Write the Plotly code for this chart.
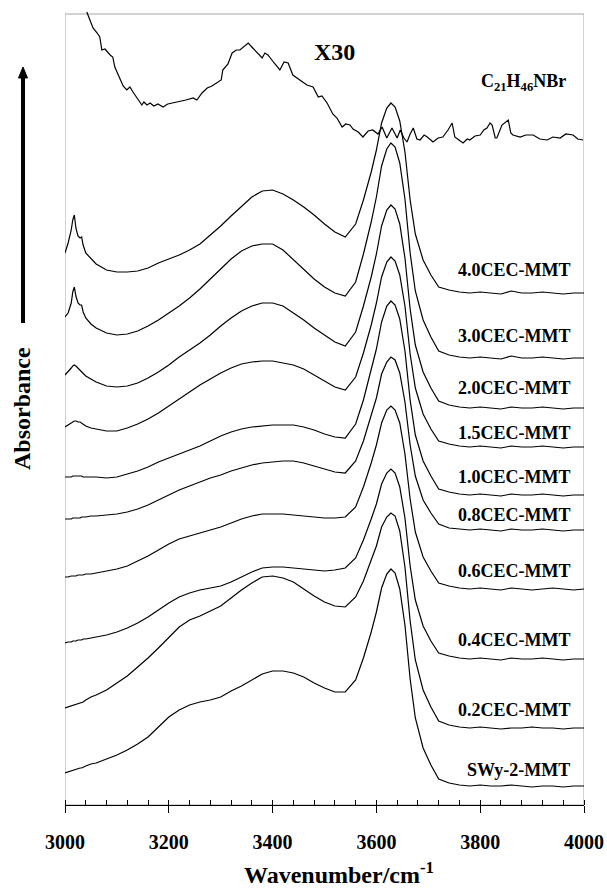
import plotly.graph_objects as go

# ---------------- data (absorbance, arbitrary offset units) ----------------
wavenumber = [3000, 3006, 3012, 3015, 3018, 3021, 3025, 3029, 3032, 3035,
              3040, 3050, 3060, 3080, 3100, 3120, 3140, 3160, 3180, 3200,
              3220, 3240, 3260, 3280, 3300, 3320, 3340, 3360, 3380, 3400,
              3420, 3440, 3460, 3480, 3500, 3520, 3540, 3560, 3575, 3590,
              3600, 3610, 3620, 3628, 3636, 3645, 3655, 3665, 3675, 3690,
              3705, 3720, 3740, 3760, 3780, 3800, 3820, 3840, 3860, 3880,
              3900, 3920, 3940, 3960, 3980, 4000]

swy = [0.32, 0.33, 0.34, 0.35, 0.35, 0.36, 0.36, 0.37, 0.37, 0.38,
       0.39, 0.41, 0.42, 0.46, 0.50, 0.55, 0.61, 0.68, 0.78, 0.88,
       0.95, 1.00, 1.03, 1.05, 1.08, 1.14, 1.19, 1.25, 1.31, 1.34,
       1.34, 1.32, 1.28, 1.22, 1.17, 1.13, 1.13, 1.25, 1.47, 1.73,
       1.93, 2.17, 2.31, 2.36, 2.32, 2.16, 1.80, 1.26, 0.87, 0.57,
       0.40, 0.26, 0.22, 0.20, 0.19, 0.20, 0.19, 0.19, 0.20, 0.19,
       0.18, 0.19, 0.19, 0.18, 0.19, 0.19]

cec02 = [0.97, 0.98, 0.99, 0.99, 1.00, 1.00, 1.01, 1.02, 1.02, 1.03,
         1.05, 1.08, 1.10, 1.15, 1.22, 1.29, 1.38, 1.47, 1.57, 1.68,
         1.78, 1.85, 1.89, 1.94, 1.99, 2.07, 2.15, 2.22, 2.28, 2.29,
         2.27, 2.23, 2.16, 2.09, 2.03, 1.99, 1.98, 2.08, 2.24, 2.44,
         2.59, 2.78, 2.88, 2.92, 2.89, 2.74, 2.38, 1.84, 1.45, 1.15,
         0.98, 0.84, 0.80, 0.78, 0.77, 0.78, 0.77, 0.76, 0.77, 0.77,
         0.78, 0.77, 0.77, 0.76, 0.77, 0.77]

cec04 = [1.62, 1.63, 1.63, 1.64, 1.64, 1.64, 1.65, 1.65, 1.65, 1.66,
         1.66, 1.67, 1.68, 1.70, 1.73, 1.77, 1.82, 1.88, 1.95, 2.02,
         2.08, 2.12, 2.15, 2.17, 2.19, 2.23, 2.28, 2.33, 2.37, 2.38,
         2.38, 2.37, 2.36, 2.35, 2.34, 2.35, 2.37, 2.47, 2.65, 2.86,
         3.01, 3.21, 3.32, 3.36, 3.32, 3.18, 2.87, 2.39, 2.05, 1.79,
         1.64, 1.52, 1.49, 1.47, 1.46, 1.47, 1.46, 1.45, 1.47, 1.46,
         1.46, 1.47, 1.46, 1.45, 1.46, 1.46]

cec06 = [2.28, 2.28, 2.29, 2.29, 2.29, 2.29, 2.30, 2.30, 2.30, 2.30,
         2.31, 2.31, 2.32, 2.34, 2.36, 2.39, 2.44, 2.49, 2.55, 2.61,
         2.66, 2.69, 2.72, 2.75, 2.78, 2.82, 2.86, 2.89, 2.91, 2.91,
         2.91, 2.90, 2.89, 2.88, 2.87, 2.87, 2.88, 2.98, 3.18, 3.42,
         3.60, 3.82, 3.95, 3.99, 3.95, 3.82, 3.51, 3.06, 2.73, 2.48,
         2.34, 2.22, 2.19, 2.17, 2.16, 2.17, 2.16, 2.15, 2.17, 2.16,
         2.15, 2.16, 2.17, 2.16, 2.15, 2.16]

cec08 = [2.86, 2.86, 2.86, 2.87, 2.87, 2.87, 2.87, 2.87, 2.88, 2.88,
         2.88, 2.89, 2.89, 2.90, 2.91, 2.93, 2.96, 3.00, 3.05, 3.10,
         3.15, 3.19, 3.23, 3.27, 3.30, 3.34, 3.37, 3.40, 3.42, 3.43,
         3.44, 3.44, 3.42, 3.39, 3.36, 3.33, 3.32, 3.44, 3.64, 3.89,
         4.07, 4.31, 4.43, 4.48, 4.45, 4.32, 4.03, 3.60, 3.29, 3.05,
         2.92, 2.81, 2.77, 2.76, 2.75, 2.76, 2.75, 2.74, 2.76, 2.75,
         2.75, 2.76, 2.75, 2.74, 2.75, 2.75]

cec10 = [3.28, 3.28, 3.28, 3.29, 3.29, 3.29, 3.29, 3.29, 3.29, 3.28,
         3.28, 3.28, 3.28, 3.27, 3.28, 3.31, 3.34, 3.38, 3.43, 3.47,
         3.51, 3.55, 3.59, 3.64, 3.69, 3.73, 3.76, 3.78, 3.79, 3.80,
         3.80, 3.80, 3.78, 3.75, 3.71, 3.68, 3.67, 3.81, 4.05, 4.34,
         4.56, 4.83, 4.99, 5.04, 5.00, 4.86, 4.54, 4.05, 3.70, 3.44,
         3.29, 3.16, 3.13, 3.11, 3.10, 3.11, 3.10, 3.09, 3.11, 3.10,
         3.10, 3.11, 3.10, 3.09, 3.10, 3.10]

cec15 = [3.78, 3.80, 3.82, 3.83, 3.84, 3.84, 3.83, 3.83, 3.82, 3.81,
         3.79, 3.77, 3.76, 3.74, 3.74, 3.77, 3.81, 3.86, 3.92, 3.99,
         4.06, 4.13, 4.20, 4.26, 4.32, 4.37, 4.41, 4.43, 4.44, 4.44,
         4.42, 4.40, 4.36, 4.30, 4.24, 4.18, 4.15, 4.28, 4.52, 4.80,
         5.02, 5.28, 5.43, 5.48, 5.44, 5.30, 4.99, 4.51, 4.17, 3.91,
         3.76, 3.64, 3.61, 3.59, 3.58, 3.59, 3.58, 3.57, 3.59, 3.58,
         3.58, 3.59, 3.58, 3.57, 3.58, 3.58]

cec20 = [4.30, 4.33, 4.37, 4.39, 4.40, 4.39, 4.37, 4.35, 4.33, 4.31,
         4.29, 4.26, 4.23, 4.19, 4.18, 4.19, 4.22, 4.27, 4.33, 4.40,
         4.48, 4.55, 4.62, 4.70, 4.79, 4.87, 4.94, 4.99, 5.02, 5.02,
         4.99, 4.92, 4.85, 4.77, 4.70, 4.63, 4.59, 4.73, 4.99, 5.28,
         5.51, 5.79, 5.95, 6.00, 5.96, 5.81, 5.47, 4.96, 4.60, 4.33,
         4.17, 4.04, 4.00, 3.98, 3.97, 3.98, 3.97, 3.96, 3.98, 3.97,
         3.97, 3.98, 3.97, 3.96, 3.97, 3.97]

cec30 = [4.88, 4.92, 5.02, 5.13, 5.18, 5.09, 5.02, 5.00, 5.00, 4.93,
         4.87, 4.81, 4.77, 4.72, 4.70, 4.71, 4.74, 4.79, 4.85, 4.92,
         4.99, 5.07, 5.16, 5.26, 5.36, 5.46, 5.54, 5.59, 5.61, 5.61,
         5.55, 5.45, 5.35, 5.26, 5.18, 5.12, 5.09, 5.23, 5.51, 5.83,
         6.08, 6.39, 6.56, 6.62, 6.58, 6.42, 6.06, 5.52, 5.14, 4.85,
         4.68, 4.54, 4.50, 4.48, 4.47, 4.48, 4.47, 4.46, 4.49, 4.47,
         4.47, 4.48, 4.47, 4.46, 4.47, 4.47]

cec40 = [5.52, 5.62, 5.75, 5.85, 5.90, 5.77, 5.69, 5.67, 5.68, 5.60,
         5.52, 5.46, 5.41, 5.35, 5.33, 5.33, 5.34, 5.37, 5.42, 5.46,
         5.50, 5.55, 5.61, 5.70, 5.79, 5.89, 5.99, 6.08, 6.14, 6.15,
         6.11, 6.05, 5.98, 5.90, 5.81, 5.73, 5.68, 5.81, 6.05, 6.33,
         6.55, 6.82, 6.97, 7.02, 6.98, 6.84, 6.53, 6.05, 5.71, 5.45,
         5.30, 5.18, 5.15, 5.13, 5.12, 5.13, 5.12, 5.11, 5.14, 5.12,
         5.12, 5.13, 5.12, 5.11, 5.12, 5.12]

# C21H46NBr spectrum (shown x30), own wavenumber sampling
c21_wavenumber = [3042, 3048, 3054, 3062, 3067, 3071, 3077, 3087, 3092, 3096,
                  3106, 3112, 3119, 3125, 3131, 3138, 3148, 3152, 3158, 3164,
                  3171, 3179, 3189, 3198, 3208, 3222, 3233, 3247, 3254, 3264,
                  3274, 3283, 3293, 3301, 3304, 3314, 3322, 3330, 3337, 3345,
                  3353, 3360, 3370, 3380, 3385, 3391, 3403, 3414, 3422, 3430,
                  3439, 3453, 3466, 3478, 3488, 3495, 3505, 3516, 3524, 3534,
                  3541, 3549, 3555, 3565, 3574, 3584, 3593, 3603, 3611, 3620,
                  3630, 3640, 3646, 3653, 3659, 3665, 3671, 3678, 3684, 3692,
                  3698, 3709, 3719, 3728, 3738, 3746, 3751, 3759, 3767, 3775,
                  3780, 3790, 3800, 3807, 3813, 3819, 3823, 3829, 3832, 3842,
                  3848, 3854, 3859, 3863, 3877, 3888, 3902, 3915, 3929, 3940,
                  3954, 3965, 3979, 3988, 3998]
c21 = [7.93, 7.85, 7.77, 7.72, 7.68, 7.55, 7.56, 7.50, 7.48, 7.38,
       7.25, 7.19, 7.15, 7.18, 7.13, 7.08, 7.00, 7.03, 7.00, 7.02,
       6.99, 7.01, 6.98, 7.01, 7.02, 7.04, 7.05, 7.07, 7.05, 7.12,
       7.17, 7.19, 7.22, 7.25, 7.35, 7.41, 7.52, 7.55, 7.55, 7.59,
       7.62, 7.58, 7.53, 7.47, 7.52, 7.50, 7.42, 7.35, 7.43, 7.42,
       7.30, 7.25, 7.20, 7.18, 7.08, 7.09, 7.02, 6.91, 6.87, 6.78,
       6.81, 6.80, 6.76, 6.73, 6.68, 6.74, 6.75, 6.71, 6.78, 6.67,
       6.77, 6.67, 6.75, 6.67, 6.63, 6.71, 6.77, 6.66, 6.65, 6.70,
       6.68, 6.63, 6.67, 6.68, 6.75, 6.82, 6.68, 6.65, 6.62, 6.66,
       6.65, 6.69, 6.70, 6.75, 6.77, 6.82, 6.80, 6.67, 6.67, 6.80,
       6.83, 6.85, 6.72, 6.70, 6.68, 6.70, 6.70, 6.66, 6.65, 6.68,
       6.67, 6.71, 6.70, 6.66, 6.65]

sample_names = ["SWy-2-MMT", "0.2CEC-MMT", "0.4CEC-MMT", "0.6CEC-MMT",
                "0.8CEC-MMT", "1.0CEC-MMT", "1.5CEC-MMT", "2.0CEC-MMT",
                "3.0CEC-MMT", "4.0CEC-MMT"]
sample_spectra = [swy, cec02, cec04, cec06, cec08, cec10, cec15, cec20,
                  cec30, cec40]

# ---------------- layout helpers (positions only) ----------------
label_y = [0.355, 0.95, 1.65, 2.34, 2.90, 3.28, 3.72, 4.17, 4.69, 5.35]
label_x = 3977

for s in sample_spectra:
    assert len(s) == len(wavenumber)
assert len(c21) == len(c21_wavenumber)

SERIF = "Liberation Serif, Times New Roman, serif"
fig = go.Figure()

for name, spec in zip(sample_names, sample_spectra):
    fig.add_trace(go.Scatter(x=wavenumber, y=spec, mode="lines", name=name,
                             line=dict(color="black", width=1.2),
                             showlegend=False, hoverinfo="skip"))
fig.add_trace(go.Scatter(x=c21_wavenumber, y=c21, mode="lines",
                         name="C21H46NBr",
                         line=dict(color="black", width=1.2),
                         showlegend=False, hoverinfo="skip"))


def bold_font(size):
    return dict(family=SERIF, size=size, color="black", weight="bold")


annotations = []
for name, ly in zip(sample_names, label_y):
    annotations.append(dict(x=label_x, y=ly, xref="x", yref="y",
                            text="<b>" + name + "</b>",
                            showarrow=False, xanchor="right", yanchor="middle",
                            font=bold_font(18)))
annotations.append(dict(x=3970, y=7.23, xref="x", yref="y",
                        text="<b>C<sub>21</sub>H<sub>46</sub>NBr</b>",
                        showarrow=False, xanchor="right", yanchor="middle",
                        font=bold_font(18)))
annotations.append(dict(x=3520, y=7.53, xref="x", yref="y", text="<b>X30</b>",
                        showarrow=False, xanchor="center", yanchor="middle",
                        font=bold_font(24)))
annotations.append(dict(x=(339 - 65) / 519, y=(805 - 873) / 805,
                        xref="paper", yref="paper",
                        text="<b>Wavenumber/cm<sup>-1</sup></b>",
                        showarrow=False, xanchor="center", yanchor="middle",
                        font=bold_font(24)))
annotations.append(dict(x=(22 - 65) / 519, y=(805 - 409) / 805,
                        xref="paper", yref="paper", text="<b>Absorbance</b>",
                        textangle=-90, showarrow=False,
                        xanchor="center", yanchor="middle",
                        font=bold_font(24)))


def px2paper_x(px):
    return (px - 65) / 519


def py2paper_y(py):
    return (805 - py) / 805


shapes = [
    # light grey frame around plotting area
    dict(type="rect", xref="x", yref="y", x0=3000, x1=4000, y0=0, y1=7.91,
         line=dict(color="#a6a6a6", width=1), layer="below"),
    # arrow shaft
    dict(type="line", xref="paper", yref="paper",
         x0=px2paper_x(23), x1=px2paper_x(23),
         y0=py2paper_y(323), y1=py2paper_y(76),
         line=dict(color="black", width=4)),
    # arrow head
    dict(type="path", xref="paper", yref="paper",
         path="M {0},{1} L {2},{3} L {4},{5} Z".format(
             px2paper_x(23), py2paper_y(67),
             px2paper_x(18.5), py2paper_y(78),
             px2paper_x(27.5), py2paper_y(78)),
         fillcolor="black", line=dict(color="black", width=1)),
]

fig.update_layout(
    width=607, height=889,
    margin=dict(l=65, r=23, t=0, b=84),
    paper_bgcolor="white", plot_bgcolor="white",
    annotations=annotations, shapes=shapes,
    xaxis=dict(range=[3000, 4000], tickmode="array",
               tickvals=[3000, 3200, 3400, 3600, 3800, 4000],
               ticktext=["<b>3000</b>", "<b>3200</b>", "<b>3400</b>",
                         "<b>3600</b>", "<b>3800</b>", "<b>4000</b>"],
               ticks="outside", ticklen=7, tickwidth=1, tickcolor="black",
               ticklabelstandoff=12,
               minor=dict(dtick=40, tick0=3000, ticks="inside", ticklen=5,
                          tickwidth=1, tickcolor="black"),
               showline=True, linecolor="black", linewidth=1,
               showgrid=False, zeroline=False,
               tickfont=bold_font(20)),
    yaxis=dict(range=[0, 8.05], visible=False, showgrid=False,
               zeroline=False),
)

fig.write_html("out.html")
